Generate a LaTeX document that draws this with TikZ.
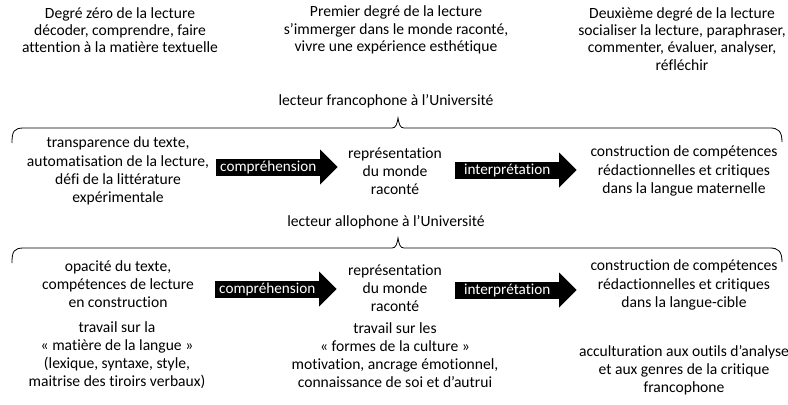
\documentclass[tikz,border=0pt]{standalone}
\usepackage{fontspec}
\setmainfont[Ligatures=NoCommon]{Carlito}
\usepackage{tikz}
\usetikzlibrary{calc}
\tikzset{
	txt/.style={align=center, inner sep=0pt, font=\fontsize{11.7}{13.6}\selectfont},
	toptxt/.style={txt, font=\fontsize{11.7}{12.9}\selectfont},
	flow/.style={fill=black, text=white, inner sep=0pt, minimum width=78pt, minimum height=12.75pt, font=\fontsize{11.4}{13}\selectfont},
}

\begin{document}
\begin{tikzpicture}[x=0.75pt, y=-0.75pt]
	\useasboundingbox (0,0) rectangle (788,404);
	\node[toptxt] (deg0) at (120,30) {Degré zéro de la lecture\\décoder, comprendre, faire\\attention à la matière textuelle};
	\node[toptxt] (deg1) at (396,30) {Premier degré de la lecture\\s’immerger dans le monde raconté,\\vivre une expérience esthétique};
	\node[toptxt] (deg2) at (682,39) {Deuxième degré de la lecture\\socialiser la lecture, paraphraser,\\commenter, évaluer, analyser,\\réfléchir};
	\node[txt] (franco) at (386,101) {lecteur francophone à l’Université};
	\node[txt] (allo) at (386,222) {lecteur allophone à l’Université};
	\node[txt] (transp) at (118,171) {transparence du texte,\\automatisation de la lecture,\\défi de la littérature\\expérimentale};
	\node[txt] (repr1) at (395,171) {représentation\\du monde\\raconté};
	\node[txt] (constr1) at (684,171) {construction de compétences\\rédactionnelles et critiques\\dans la langue maternelle};
	\node[txt] (opac) at (118,284) {opacité du texte,\\compétences de lecture\\en construction};
	\node[txt] (repr2) at (395,288) {représentation\\du monde\\raconté};
	\node[txt] (constr2) at (684,285) {construction de compétences\\rédactionnelles et critiques\\dans la langue-cible};
	\node[txt] (matiere) at (117,355) {travail sur la\\« matière de la langue »\\(lexique, syntaxe, style,\\maitrise des tiroirs verbaux)};
	\node[txt] (formes) at (395,355) {travail sur les\\« formes de la culture »\\motivation, ancrage émotionnel,\\connaissance de soi et d’autrui};
	\node[txt] (accult) at (684,370) {acculturation aux outils d’analyse\\et aux genres de la critique\\francophone};
	\node[flow, anchor=west] (compr1) at (216,167) {compréhension};
	\node[flow, anchor=west] (interp1) at (455,170) {interprétation};
	\node[flow, anchor=west] (compr2) at (215,289) {compréhension};
	\node[flow, anchor=west] (interp2) at (455,290) {interprétation};
	\foreach \a in {compr1,interp1,compr2,interp2} {
		\fill (\a.east) ++(-0.5,-17.5) -- ++(17.5,17.5) -- ++(-17.5,17.5) -- cycle;}
	\foreach \y in {0,120} {
		\draw[line width=0.6pt] (12,143+\y) .. controls (12,131+\y) and (14,128+\y) .. (24,128+\y) -- (392,128+\y)
			.. controls (396,128+\y) and (397,124+\y) .. (398,118+\y)
			.. controls (399,124+\y) and (400,128+\y) .. (404,128+\y) -- (770,128+\y)
			.. controls (778,128+\y) and (782,131+\y) .. (782,142+\y);}
\end{tikzpicture}
\end{document}
